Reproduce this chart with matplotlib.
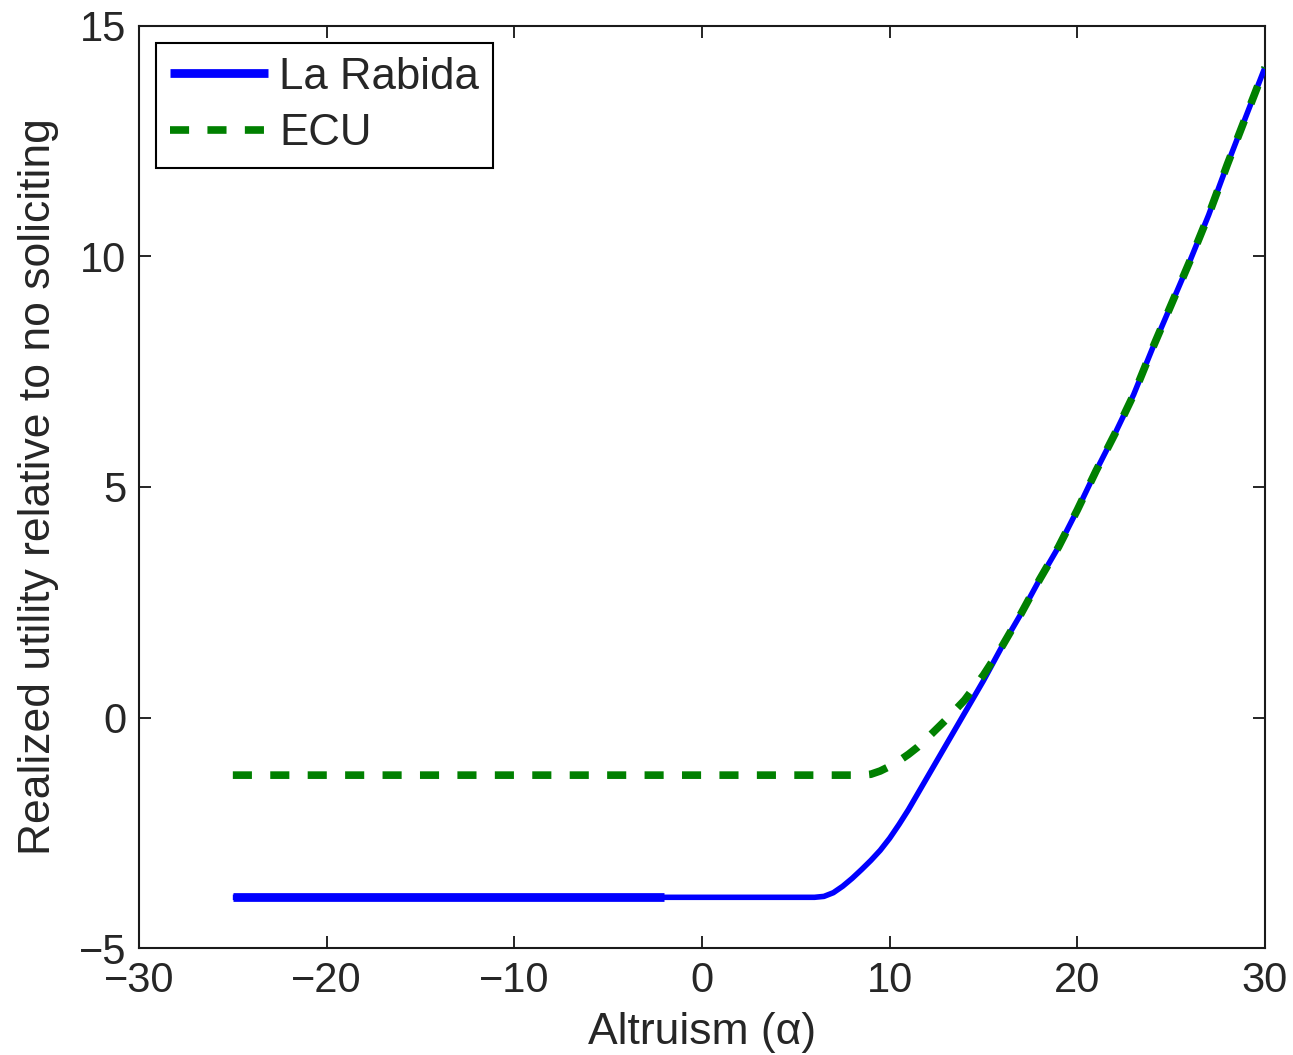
import numpy as np
import matplotlib
matplotlib.use("Agg")
import matplotlib.pyplot as plt

# ---- data ----
alpha_blue = [-25, -2, 6, 6.5, 7, 7.5, 8, 8.5, 9, 9.5, 10, 10.5, 11, 12, 13, 14,
              15, 16, 17, 18, 19, 20, 21, 22, 23, 24, 25, 26, 27, 28, 29, 30]
la_rabida = [-3.9, -3.9, -3.9, -3.88, -3.8, -3.66, -3.49, -3.3, -3.1, -2.88,
             -2.62, -2.32, -2.0, -1.3, -0.6, 0.1, 0.8, 1.55, 2.25, 3.0, 3.7,
             4.5, 5.35, 6.15, 7.0, 8.0, 8.95, 9.9, 10.9, 12.0, 13.05, 14.1]

alpha_green = [-25, 8.5, 9, 9.5, 10, 10.5, 11, 11.5, 12, 13, 14, 15, 16, 17, 18,
               19, 20, 21, 22, 23, 24, 25, 26, 27, 28, 29, 30]
ecu = [-1.25, -1.25, -1.23, -1.16, -1.06, -0.94, -0.8, -0.64, -0.45, -0.05,
       0.38, 0.92, 1.55, 2.25, 3.0, 3.7, 4.5, 5.35, 6.15, 7.0, 8.0, 8.95, 9.9,
       10.9, 12.0, 13.05, 14.1]

series_labels = ["La Rabida", "ECU"]
xticks = [-30, -20, -10, 0, 10, 20, 30]
yticks = [-5, 0, 5, 10, 15]
xlabel = "Altruism (\u03b1)"
ylabel = "Realized utility relative to no soliciting"

plt.rcParams['font.family'] = ['Liberation Sans', 'DejaVu Sans']
text_color = '#262626'
fs = 30

fig = plt.figure(figsize=(12.93, 10.55), dpi=100)
ax = fig.add_axes([0.1075, 0.1014, 0.8708, 0.874])

ab = np.array(alpha_blue)
lb = np.array(la_rabida)
thick = ab <= -2

ax.plot(ab, lb, color='#0000ff', lw=4.0, solid_capstyle='butt',
        solid_joinstyle='round', zorder=3)
ax.plot(ab[thick], lb[thick], color='#0000ff', lw=6.3, solid_capstyle='butt',
        zorder=3, label=series_labels[0])
ax.plot(alpha_green, ecu, color='#008000', lw=5.5, linestyle=(0, (2.5, 2.4)),
        zorder=4, label=series_labels[1])

ax.set_xlim(-30, 30)
ax.set_ylim(-5, 15)
ax.set_xticks(xticks)
ax.set_yticks(yticks)
ax.tick_params(direction='in', length=8.5, width=1.2, top=True, right=True,
               labelsize=fs, labelcolor=text_color, pad=9)
for s in ax.spines.values():
    s.set_linewidth(1.5)
    s.set_color('#1a1a1a')

ax.set_xlabel(xlabel, fontsize=32, color=text_color, labelpad=8)
ax.set_ylabel(ylabel, fontsize=32, color=text_color)
ax.yaxis.set_label_coords(-0.071, 0.5)

leg = ax.legend(loc='upper left', prop={'size': 31.5}, frameon=True,
                fancybox=False, edgecolor='black', framealpha=1,
                handlelength=2.25, handletextpad=0.25, borderaxespad=0.38,
                labelspacing=0.36, borderpad=0.32)
leg.get_frame().set_linewidth(1.5)
for t in leg.get_texts():
    t.set_color(text_color)

fig.savefig('out.png', dpi=100)
